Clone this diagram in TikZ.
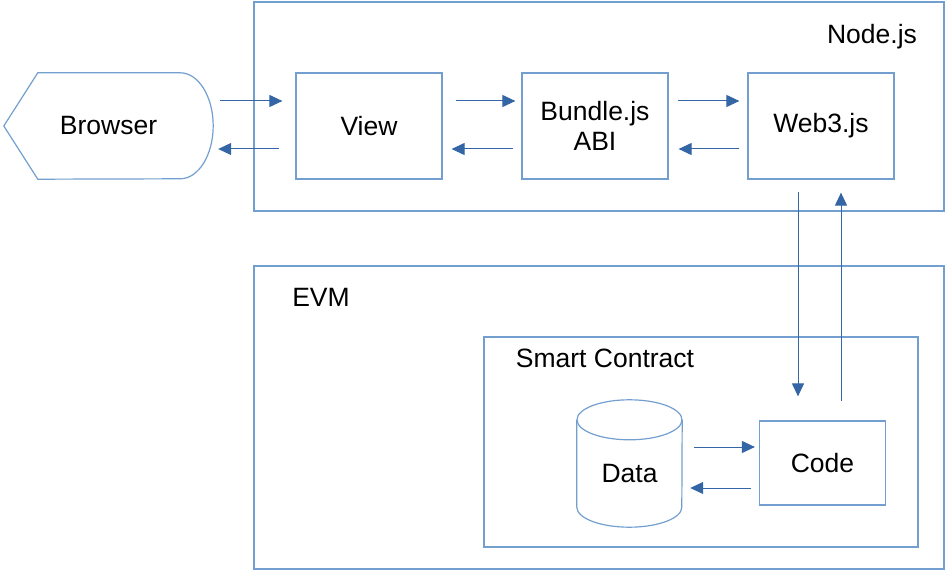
\documentclass[tikz,border=0pt]{standalone}
\usepackage{fontspec}
\setmainfont{Liberation Sans}
\usetikzlibrary{arrows.meta}
\definecolor{boxblue}{HTML}{729FCF}
\definecolor{arrowblue}{HTML}{3465A4}

\begin{document}
\begin{tikzpicture}[  x = 1pt,  y = -1pt,  > = {Triangle[length=13pt,width=12pt]},  node distance = 226pt,  font = \fontsize{26.5}{30}\selectfont,
  frame/.style = {draw=boxblue, line width=1.2pt},
  box/.style = {frame, minimum width=146pt, minimum height=106pt, align=center},
  link/.style = {->, color=arrowblue, line width=1pt}]
  \useasboundingbox (0,0) rectangle (946,572);

  % Define containers
  \node (nodejs) [frame, minimum width=690pt, minimum height=209pt] at (599,106.5) {};
  \node (evm) [frame, minimum width=690pt, minimum height=303pt] at (599,417.5) {};
  \node (contract) [frame, minimum width=434pt, minimum height=210pt] at (701,442) {};
  \node (nodejslabel) at (872,37) {Node.js};
  \node (evmlabel) at (321,297) {EVM};
  \node (contractlabel) at (605,358) {Smart Contract};

  % Define nodes
  \node (view) [box] at (369,126) {View};
  \node (bundle) [box, right of=view] {Bundle.js\\ABI};
  \node (web3) [box, right of=bundle] {Web3.js};
  \node (browser) [minimum width=209pt, minimum height=106pt, left of=view, node distance=260.5pt] {Browser};
  \node (data) [minimum width=105pt, minimum height=127pt] at (629.5,463.5) {};
  \node (datalabel) at (629.5,474) {Data};
  \node (code) [box, minimum width=126pt, minimum height=84pt] at (822.5,463) {Code};

  % Browser outline
  \draw[frame] ([xshift=34pt]browser.north west) -- ([xshift=-33pt]browser.north east)
    arc[start angle=90, end angle=-90, x radius=33pt, y radius=53pt]
    -- ([xshift=34pt]browser.south west) -- (browser.west) -- cycle;

  % Data store drum
  \draw[frame] ([yshift=-20pt]data.north) ellipse[x radius=52.5pt, y radius=20pt];
  \draw[frame] ([yshift=-20pt]data.north west) -- ([yshift=20pt]data.south west)
    arc[start angle=180, end angle=360, x radius=52.5pt, y radius=20pt]
    -- ([yshift=-20pt]data.north east);

  % Draw arrows
  \draw[link, shorten <=7pt, shorten >=13pt] ([yshift=25pt]browser.east) -- ([yshift=25pt]view.west);
  \draw[link, shorten <=16pt, shorten >=5pt] ([yshift=-23pt]view.west) -- ([yshift=-23pt]browser.east);
  \draw[link, shorten <=13pt, shorten >=6pt] ([yshift=25pt]view.east) -- ([yshift=25pt]bundle.west);
  \draw[link, shorten <=8pt, shorten >=9pt] ([yshift=-23pt]bundle.west) -- ([yshift=-23pt]view.east);
  \draw[link, shorten <=9pt, shorten >=8pt] ([yshift=25pt]bundle.east) -- ([yshift=25pt]web3.west);
  \draw[link, shorten <=8pt, shorten >=10pt] ([yshift=-23pt]web3.west) -- ([yshift=-23pt]bundle.east);
  \draw[link, shorten <=12pt, shorten >=24pt] ([xshift=-23pt]web3.south) -- ([xshift=-23pt]web3.south |- code.north);
  \draw[link, shorten <=19pt, shorten >=13pt] ([xshift=20pt]web3.south |- code.north) -- ([xshift=20pt]web3.south);
  \draw[link, shorten <=12pt, shorten >=4pt] ([yshift=16pt]code.west -| data.east) -- ([yshift=16pt]code.west);
  \draw[link, shorten <=8pt, shorten >=8pt] ([yshift=-25pt]code.west) -- ([yshift=-25pt]code.west -| data.east);
\end{tikzpicture}
\end{document}
